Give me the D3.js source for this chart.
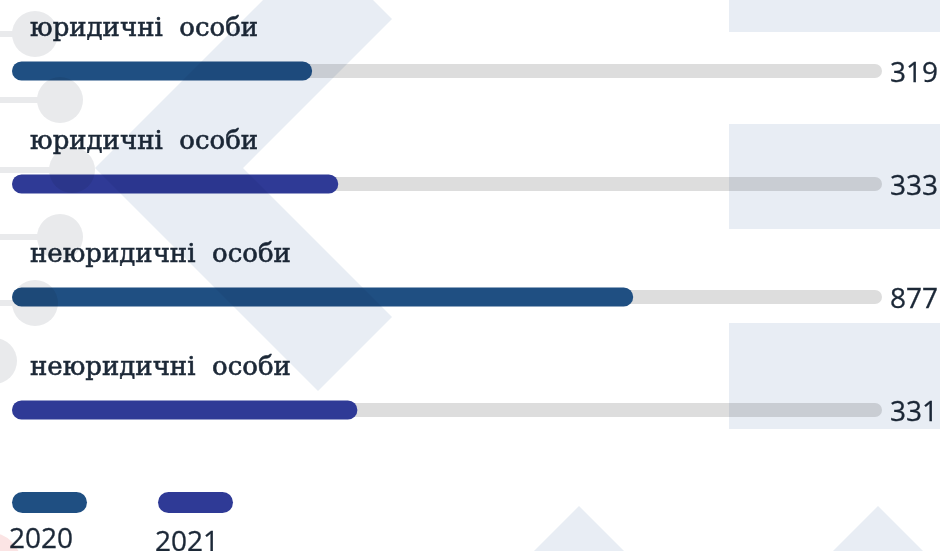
<!DOCTYPE html>
<html>
<head>
<meta charset="utf-8">
<script src="https://cdn.jsdelivr.net/npm/d3@7"></script>
<style>
  body { margin: 0; background: #fff; }
  svg { display: block; }
</style>
</head>
<body>
<div id="chart"></div>
<script>
// data
const categories = ["юридичні  особи", "юридичні  особи", "неюридичні  особи", "неюридичні  особи"];
const years = ["2020", "2021", "2020", "2021"];
const values = [319, 333, 877, 331];
const shares = [34.5, 37.5, 71.4, 39.7]; // filled part of each track, %
const legendYears = ["2020", "2021"];

let totalWidth = 940, totalHeight = 551;
let trackLeft = 12, trackRight = 882;
let yearColor = d3.scaleOrdinal().domain(legendYears).range(["#1f4f82", "#2f3a96"]);
let textColor = "#1c2837";
let decoColor = "#e8edf4";
let dotColor = "#e9eaec";

let svg = d3.select("#chart").append("svg")
        .attr("width", totalWidth)
        .attr("height", totalHeight);

let xScale = d3.scaleLinear().domain([0, 100]).range([trackLeft, trackRight]);
let yScale = d3.scalePoint().domain(d3.range(values.length)).range([71, 410]);

let rows = values.map((v, i) => ({i: i, label: categories[i], year: years[i], value: v, share: shares[i]}));

let g = svg.append("g");

// label above each bar
g.selectAll("text.label")
        .data(rows)
        .enter().append("text")
        .attr("class", "label")
        .attr("x", 30)
        .attr("y", d => yScale(d.i) - 35)
        .attr("font-family", "'DejaVu Serif', serif")
        .attr("font-size", 26)
        .attr("fill", textColor)
        .attr("stroke", textColor)
        .attr("stroke-width", 0.6)
        .style("white-space", "pre")
        .text(d => d.label);

// grey track
g.selectAll("rect.track")
        .data(rows)
        .enter().append("rect")
        .attr("class", "track")
        .attr("x", xScale(0))
        .attr("y", d => yScale(d.i) - 7)
        .attr("width", xScale(100) - xScale(0))
        .attr("height", 14)
        .attr("rx", 7)
        .attr("fill", "#dddddd");

// filled bar
g.selectAll("rect.bar")
        .data(rows)
        .enter().append("rect")
        .attr("class", "bar")
        .attr("x", xScale(0))
        .attr("y", d => yScale(d.i) - 9.5)
        .attr("width", d => xScale(d.share) - xScale(0))
        .attr("height", 19)
        .attr("rx", 9.5)
        .attr("fill", d => yearColor(d.year));

// value at the end of the track
g.selectAll("text.value")
        .data(rows)
        .enter().append("text")
        .attr("class", "value")
        .attr("x", trackRight + 8)
        .attr("y", d => yScale(d.i) + 11)
        .attr("font-family", "'Open Sans', sans-serif")
        .attr("font-size", 28)
        .attr("fill", textColor)
        .attr("stroke", textColor)
        .attr("stroke-width", 0.3)
        .text(d => d.value);

// legend
let legend = svg.append("g").selectAll("g")
        .data(legendYears)
        .enter().append("g")
        .attr("transform", (d, i) => "translate(" + (12 + i * 146) + ",492)");
legend.append("rect")
        .attr("width", 75)
        .attr("height", 21)
        .attr("rx", 10.5)
        .attr("fill", d => yearColor(d));
legend.append("text")
        .attr("x", -3)
        .attr("y", (d, i) => 56 + i * 3)
        .attr("font-family", "'Open Sans', sans-serif")
        .attr("font-size", 28)
        .attr("fill", textColor)
        .attr("stroke", textColor)
        .attr("stroke-width", 0.3)
        .text(d => d);

// background decoration, blended over everything
let deco = svg.append("g").style("mix-blend-mode", "multiply");
deco.append("path")
        .attr("d", "M318,-55 L373,0 L392,19 L243,168 L392,317 L318,391 L95,168 Z")
        .attr("fill", decoColor);
[[0, 32], [124, 229], [323, 429]].forEach(r => {
    deco.append("rect").attr("x", 729).attr("y", r[0])
            .attr("width", 211).attr("height", r[1] - r[0])
            .attr("fill", decoColor);
});
[579, 878].forEach(cx => {
    deco.append("path")
            .attr("d", "M" + cx + ",506 L" + (cx + 50) + ",556 L" + (cx - 50) + ",556 Z")
            .attr("fill", decoColor);
});
[[35, 34], [60, 100], [72, 170], [60, 237], [35, 303], [-6, 361]].forEach(c => {
    deco.append("rect").attr("x", 0).attr("y", c[1] - 3)
            .attr("width", Math.max(c[0], 0)).attr("height", 6)
            .attr("fill", dotColor);
    deco.append("circle").attr("cx", c[0]).attr("cy", c[1]).attr("r", 23)
            .attr("fill", dotColor);
});
deco.append("circle").attr("cx", -12).attr("cy", 566).attr("r", 34).attr("fill", "#fbe4e4");
</script>
</body>
</html>
